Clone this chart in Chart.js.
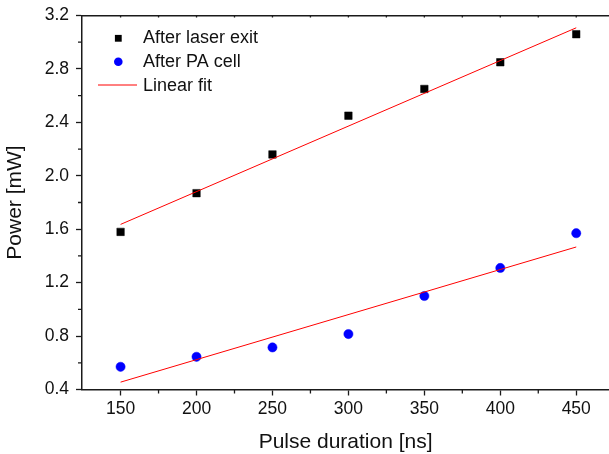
<!DOCTYPE html>
<html>
<head>
<meta charset="utf-8">
<script src="https://cdn.jsdelivr.net/npm/chart.js@4.4.1/dist/chart.umd.min.js"></script>
<style>
html,body{margin:0;padding:0;background:#fff;overflow:hidden;}
#wrap{width:609px;height:454px;position:relative;overflow:hidden;}
</style>
</head>
<body>
<div id="wrap"><canvas id="c" width="615" height="454"></canvas></div>
<script>
// ---- data ----
const pulseDurations = [150, 200, 250, 300, 350, 400, 450];
const powerAfterLaser = [1.58, 1.87, 2.16, 2.45, 2.65, 2.85, 3.06];
const powerAfterPA = [0.57, 0.645, 0.715, 0.815, 1.10, 1.31, 1.57];
const fitX = [150, 450];
const fitLaser = [1.636, 3.108];
const fitPA = [0.455, 1.467];
const seriesLabels = ['After laser exit', 'After PA cell', 'Linear fit'];
const xTicks = [150, 200, 250, 300, 350, 400, 450];
const xMinorTicks = [175, 225, 275, 325, 375, 425];
const yTicks = [0.4, 0.8, 1.2, 1.6, 2.0, 2.4, 2.8, 3.2];
const yMinorTicks = [0.6, 1.0, 1.4, 1.8, 2.2, 2.6, 3.0];
const xTitle = 'Pulse duration [ns]';
const yTitle = 'Power [mW]';

const FONT = "'Liberation Sans', Arial, sans-serif";
const AXIS = '#1a1a1a';

const toPts = (xs, ys) => xs.map((x, i) => ({x: x, y: ys[i]}));

const extras = {
  id: 'extras',
  afterDraw(chart) {
    const ctx = chart.ctx;
    const xs = chart.scales.x, ys = chart.scales.y;
    const ca = chart.chartArea;
    ctx.save();
    ctx.strokeStyle = AXIS;
    ctx.lineWidth = 1.3;
    ctx.beginPath();
    xMinorTicks.forEach(v => {
      const p = xs.getPixelForValue(v);
      ctx.moveTo(p, ca.bottom); ctx.lineTo(p, ca.bottom + 4);
    });
    yMinorTicks.forEach(v => {
      const p = ys.getPixelForValue(v);
      ctx.moveTo(ca.left, p); ctx.lineTo(ca.left - 4, p);
    });
    xTicks.concat(xMinorTicks).forEach(v => {
      const p = xs.getPixelForValue(v);
      ctx.moveTo(p, ca.top); ctx.lineTo(p, ca.top + 2);
    });
    ctx.stroke();

    // legend
    const ds = chart.data.datasets;
    ctx.font = "18px " + FONT;
    ctx.textBaseline = 'alphabetic';
    ctx.textAlign = 'left';
    const textX = 143;
    ctx.fillStyle = ds[0].backgroundColor;
    ctx.fillRect(118.3 - 3.4, 38.3 - 3.4, 6.8, 6.8);
    ctx.fillStyle = '#111';
    ctx.fillText(ds[0].label, textX, 43);
    ctx.fillStyle = ds[1].backgroundColor;
    ctx.beginPath(); ctx.arc(118.3, 61.7, 4.3, 0, Math.PI * 2); ctx.fill();
    ctx.fillStyle = '#111';
    ctx.fillText(ds[1].label, textX, 67);
    ctx.strokeStyle = ds[2].borderColor;
    ctx.lineWidth = 1;
    ctx.beginPath(); ctx.moveTo(98, 85); ctx.lineTo(137, 85); ctx.stroke();
    ctx.fillStyle = '#111';
    ctx.fillText(ds[2].label, textX, 90.5);
    ctx.restore();
  }
};

const noPad = s => { s.paddingLeft = 0; s.paddingRight = 0; };

new Chart(document.getElementById('c'), {
  type: 'scatter',
  data: {
    datasets: [
      {label: seriesLabels[0], data: toPts(pulseDurations, powerAfterLaser), pointStyle: 'rect',
       pointRadius: 5.3, pointBorderWidth: 0.5, backgroundColor: '#000', borderColor: '#000', showLine: false, order: 1},
      {label: seriesLabels[1], data: toPts(pulseDurations, powerAfterPA), pointStyle: 'circle',
       pointRadius: 4.6, pointBorderWidth: 0.5, backgroundColor: '#0000ff', borderColor: '#0000ff', showLine: false, order: 1},
      {label: seriesLabels[2], data: toPts(fitX, fitLaser), showLine: true, pointRadius: 0,
       borderColor: '#ff0000', borderWidth: 1, backgroundColor: '#ff0000', order: 0},
      {label: seriesLabels[2], data: toPts(fitX, fitPA), showLine: true, pointRadius: 0,
       borderColor: '#ff0000', borderWidth: 1, backgroundColor: '#ff0000', order: 0}
    ]
  },
  options: {
    responsive: false,
    animation: false,
    devicePixelRatio: 1,
    layout: {padding: 0},
    plugins: {legend: {display: false}, tooltip: {enabled: false}},
    scales: {
      x: {
        type: 'linear', position: 'bottom', min: 124.6, max: 471.7,
        afterBuildTicks: s => { s.ticks = xTicks.map(v => ({value: v})); },
        afterFit: s => { s.height = 64.5; noPad(s); },
        grid: {drawOnChartArea: false, drawTicks: true, tickLength: 6, tickColor: AXIS, tickWidth: 1.3},
        border: {color: AXIS, width: 1.5},
        ticks: {color: '#111', font: {family: FONT, size: 17.5}, padding: 3, maxRotation: 0},
        title: {display: true, text: xTitle, color: '#111', font: {family: FONT, size: 21}, padding: {top: 0, bottom: -1}}
      },
      x2: {
        type: 'linear', position: 'top', min: 124.6, max: 471.7,
        afterBuildTicks: s => { s.ticks = xTicks.map(v => ({value: v})); },
        afterFit: s => { s.height = 15.5; noPad(s); },
        grid: {drawOnChartArea: false, drawTicks: false},
        border: {color: AXIS, width: 1.5},
        ticks: {display: false}
      },
      y: {
        type: 'linear', position: 'left', min: 0.4, max: 3.2,
        afterBuildTicks: s => { s.ticks = yTicks.map(v => ({value: v})); },
        afterFit: s => { s.width = 82; s.paddingTop = 0; s.paddingBottom = 0; },
        grid: {drawOnChartArea: false, drawTicks: true, tickLength: 6, tickColor: AXIS, tickWidth: 1.3},
        border: {color: AXIS, width: 1.5},
        ticks: {color: '#111', font: {family: FONT, size: 17.5}, padding: 7, callback: v => Number(v).toFixed(1)},
        title: {display: true, text: yTitle, color: '#111', font: {family: FONT, size: 21}, padding: {top: 3, bottom: 0}}
      }
    }
  },
  plugins: [extras]
});
</script>
</body>
</html>
